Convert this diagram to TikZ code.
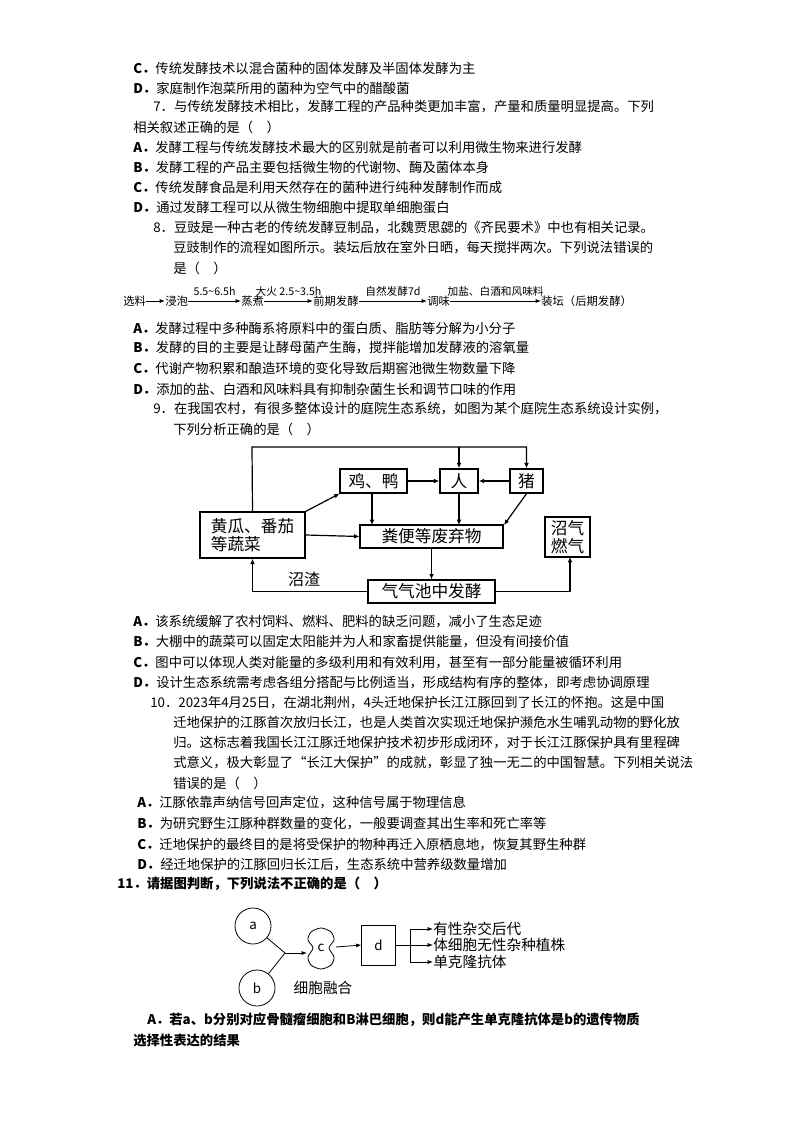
\documentclass[tikz,border=0pt]{standalone}
\usepackage{fontspec}
\setmainfont{Noto Sans CJK SC}
\usetikzlibrary{arrows.meta}
\begin{document}
\begin{tikzpicture}[x=0.75pt,y=-0.75pt,
  ln/.style={anchor=west,inner sep=0,font=\fontsize{10}{12}\selectfont},
  bx/.style={draw,line width=1.1pt,inner sep=1pt,font=\fontsize{12.5}{14}\selectfont},
  ar/.style={-{Latex[length=4pt,width=3.5pt]},line width=0.9pt},
  fl/.style={anchor=west,inner sep=0,font=\fontsize{8.5}{10}\selectfont},
  fa/.style={-{Latex[length=4pt,width=3pt]},line width=0.7pt},
  sa/.style={-{Latex[length=4pt,width=3pt]},line width=0.6pt}]
\useasboundingbox (0,0) rectangle (794,1123);
% text lines
\node[ln] (t1) at (133,68) {\textbf{C．}传统发酵技术以混合菌种的固体发酵及半固体发酵为主};
\node[ln] (t2) at (133,88) {\textbf{D．}家庭制作泡菜所用的菌种为空气中的醋酸菌};
\node[ln] (t3) at (153,107) {7．与传统发酵技术相比，发酵工程的产品种类更加丰富，产量和质量明显提高。下列};
\node[ln] (t4) at (133,127) {相关叙述正确的是（\quad）};
\node[ln] (t5) at (133,147) {\textbf{A．}发酵工程与传统发酵技术最大的区别就是前者可以利用微生物来进行发酵};
\node[ln] (t6) at (133,167) {\textbf{B．}发酵工程的产品主要包括微生物的代谢物、酶及菌体本身};
\node[ln] (t7) at (133,187) {\textbf{C．}传统发酵食品是利用天然存在的菌种进行纯种发酵制作而成};
\node[ln] (t8) at (133,207) {\textbf{D．}通过发酵工程可以从微生物细胞中提取单细胞蛋白};
\node[ln] (t9) at (153,228) {8．豆豉是一种古老的传统发酵豆制品，北魏贾思勰的《齐民要术》中也有相关记录。};
\node[ln] (t10) at (173,248) {豆豉制作的流程如图所示。装坛后放在室外日晒，每天搅拌两次。下列说法错误的};
\node[ln] (t11) at (173,268) {是（\quad）};
% flow
\node[fl] (f1) at (123,301) {选料};
\node[fl] (f2) at (165,301) {浸泡};
\node[fl] (f3) at (241,301) {蒸煮};
\node[fl] (f4) at (313,301) {前期发酵};
\node[fl] (f5) at (427,301) {调味};
\node[fl] (f6) at (541,301) {装坛（后期发酵）};
\draw[fa] (f1) -- (f2);
\draw[fa] (f2) -- node[above=0pt,font=\fontsize{8}{9}\selectfont]{5.5\textasciitilde6.5h} (f3);
\draw[fa] (f3) -- node[above=0pt,font=\fontsize{8}{9}\selectfont]{大火 2.5\textasciitilde3.5h} (f4);
\draw[fa] (f4) -- node[above=0pt,font=\fontsize{8}{9}\selectfont]{自然发酵7d} (f5);
\draw[fa] (f5) -- node[above=0pt,font=\fontsize{8}{9}\selectfont]{加盐、白酒和风味料} (f6);
\node[ln] (t12) at (133,328) {\textbf{A．}发酵过程中多种酶系将原料中的蛋白质、脂肪等分解为小分子};
\node[ln] (t13) at (133,348) {\textbf{B．}发酵的目的主要是让酵母菌产生酶，搅拌能增加发酵液的溶氧量};
\node[ln] (t14) at (133,368) {\textbf{C．}代谢产物积累和酿造环境的变化导致后期窖池微生物数量下降};
\node[ln] (t15) at (133,389) {\textbf{D．}添加的盐、白酒和风味料具有抑制杂菌生长和调节口味的作用};
\node[ln] (t16) at (153,409) {9．在我国农村，有很多整体设计的庭院生态系统，如图为某个庭院生态系统设计实例，};
\node[ln] (t17) at (173,429) {下列分析正确的是（\quad）};
% ecosystem (sizes in pt = px*0.75)
\node[bx,minimum width=50pt,minimum height=18pt] (jy) at (373.5,481) {鸡、鸭};
\node[bx,minimum width=28.5pt,minimum height=18pt] (ren) at (459,481) {人};
\node[bx,minimum width=25pt,minimum height=18pt] (zhu) at (526.5,481) {猪};
\node[bx,minimum width=79pt,minimum height=34.5pt,align=left] (hg) at (252.5,535) {黄瓜、番茄\\等蔬菜};
\node[bx,minimum width=107pt,minimum height=17pt] (fb) at (431.5,536.5) {粪便等废弃物};
\node[bx,minimum width=34pt,minimum height=30pt,align=left] (zq) at (567.5,537) {沼气\\燃气};
\node[bx,minimum width=95pt,minimum height=17pt] (fj) at (431.5,591.5) {气气池中发酵};
\node[inner sep=0,font=\fontsize{12}{14}\selectfont] (zz) at (304,579) {沼渣};
\draw[ar] (hg.north) -- (252,447) -| (zhu.north);
\coordinate (rt) at (459,447);
\draw[ar] (rt) -- (ren.north);
\draw[ar] (jy) -- (ren);
\draw[ar] (zhu) -- (ren);
\draw[ar] (hg.north east) -- (jy.south west);
\draw[ar] (372,493) -- (372,525);
\draw[ar] (ren.south) -- (459,525);
\draw[ar] (527,493) -- (504,525);
\draw[ar] (hg.east) -- (fb.west);
\draw[ar] (fb.south) -- (fj.north);
\draw[ar] (fj.west) -| (hg.south);
\draw[ar] (fj.east) -| (570,557);
% q9 options
\node[ln] (t18) at (133,622) {\textbf{A．}该系统缓解了农村饲料、燃料、肥料的缺乏问题，减小了生态足迹};
\node[ln] (t19) at (133,642) {\textbf{B．}大棚中的蔬菜可以固定太阳能并为人和家畜提供能量，但没有间接价值};
\node[ln] (t20) at (133,663) {\textbf{C．}图中可以体现人类对能量的多级利用和有效利用，甚至有一部分能量被循环利用};
\node[ln] (t21) at (133,683) {\textbf{D．}设计生态系统需考虑各组分搭配与比例适当，形成结构有序的整体，即考虑协调原理};
\node[ln] (t22) at (150,703) {10．2023年4月25日，在湖北荆州，4头迁地保护长江江豚回到了长江的怀抱。这是中国};
\node[ln] (t23) at (173,723) {迁地保护的江豚首次放归长江，也是人类首次实现迁地保护濒危水生哺乳动物的野化放};
\node[ln] (t24) at (173,743) {归。这标志着我国长江江豚迁地保护技术初步形成闭环，对于长江江豚保护具有里程碑};
\node[ln] (t25) at (173,763) {式意义，极大彰显了“长江大保护”的成就，彰显了独一无二的中国智慧。下列相关说法};
\node[ln] (t26) at (173,783) {错误的是（\quad）};
\node[ln] (t27) at (137,803) {\textbf{A．}江豚依靠声纳信号回声定位，这种信号属于物理信息};
\node[ln] (t28) at (137,824) {\textbf{B．}为研究野生江豚种群数量的变化，一般要调查其出生率和死亡率等};
\node[ln] (t29) at (137,845) {\textbf{C．}迁地保护的最终目的是将受保护的物种再迁入原栖息地，恢复其野生种群};
\node[ln] (t30) at (137,865) {\textbf{D．}经迁地保护的江豚回归长江后，生态系统中营养级数量增加};
\node[ln] (t31) at (117,884) {\textbf{11．请据图判断，下列说法不正确的是（\quad）}};
% fusion diagram
\node[draw,circle,minimum size=27pt,inner sep=0,line width=0.6pt,font=\fontsize{10}{12}\selectfont] (a) at (253,926) {a};
\node[draw,circle,minimum size=27pt,inner sep=0,line width=0.6pt,font=\fontsize{10}{12}\selectfont] (b) at (257,988) {b};
\coordinate (m) at (285,953);
\draw[line width=0.6pt] (a) -- (m);
\draw[line width=0.6pt] (b) -- (m);
\draw[line width=0.6pt] plot[smooth cycle] coordinates {(321,928) (331,932) (334,940) (329,948) (334,957) (331,965) (321,969) (311,965) (308,957) (313,948) (308,940) (311,932)};
\node[inner sep=0,font=\fontsize{10}{12}\selectfont] (c) at (321,948) {c};
\draw[sa] (m) -- (307,953);
\node[inner sep=0,font=\fontsize{11}{13}\selectfont] (rh) at (323,988) {细胞融合};
\node[draw,line width=0.6pt,minimum width=25pt,minimum height=30pt,inner sep=0,font=\fontsize{10}{12}\selectfont] (d) at (378.5,945) {d};
\draw[sa] (336,947) -- (d.west);
\coordinate (s) at (410,945);
\draw[line width=0.6pt] (d.east) -- (s);
\node[anchor=west,inner sep=0,font=\fontsize{11}{13}\selectfont] (o1) at (433,929) {有性杂交后代};
\node[anchor=west,inner sep=0,font=\fontsize{11}{13}\selectfont] (o2) at (433,945) {体细胞无性杂种植株};
\node[anchor=west,inner sep=0,font=\fontsize{11}{13}\selectfont] (o3) at (433,962) {单克隆抗体};
\draw[sa] (410,929) -- (o1.west);
\draw[sa] (s) -- (o2.west);
\draw[sa] (410,962) -- (o3.west);
\draw[line width=0.6pt] (410,929) -- (410,962);
\node[ln] (t32) at (147,1020) {\textbf{A．若a、b分别对应骨髓瘤细胞和B淋巴细胞，则d能产生单克隆抗体是b的遗传物质}};
\node[ln] (t33) at (133,1040) {\textbf{选择性表达的结果}};
\end{tikzpicture}
\end{document}
